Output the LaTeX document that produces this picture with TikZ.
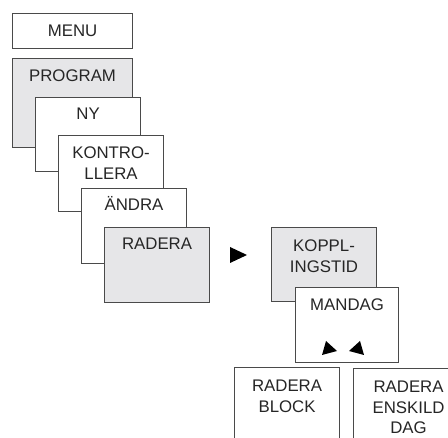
\documentclass[tikz,border=0pt]{standalone}
\usepackage{fontspec}
\setmainfont{Liberation Sans}
\begin{document}
\begin{tikzpicture}[x=1pt,y=-1pt]
\definecolor{linje}{HTML}{4A4A4A}
\definecolor{gra}{HTML}{E6E6E8}
\tikzset{ruta/.style={draw=linje, line width=1.1pt, fill=white, anchor=north west, inner sep=0pt, minimum width=105pt, minimum height=75pt},
  gruta/.style={ruta, fill=gra},
  text1/.style={anchor=base, inner sep=0pt, align=center, font=\fontsize{16.8}{20.5}\selectfont, text=black!85}}
\useasboundingbox (0,0) rectangle (448,438);
\clip (0,0) rectangle (448,438);
\node[ruta, minimum width=120pt, minimum height=35pt] (M) at (12,13) {};
\node[gruta, minimum width=120pt, minimum height=89pt] (P) at (12,58) {};
\node[ruta, minimum height=74pt] (P1) at (35,97) {};
\node[ruta, minimum height=76pt] (P2) at (58,135) {};
\node[ruta] (P3) at (81,188) {};
\node[gruta] (P4) at (104,227) {};
\node[gruta, minimum height=74pt] (K) at (271,227) {};
\node[ruta, minimum width=103pt] (K1) at (295,287) {};
\node[ruta, minimum height=100pt] (R1) at (234,367) {};
\node[ruta, minimum width=110pt, minimum height=100pt] (R2) at (353,368) {};
\node[text1] (tM) at ([yshift=-24pt]M.north) {MENU};
\node[text1] (tP) at ([yshift=-24pt]P.north) {PROGRAM};
\node[text1] (tP1) at ([yshift=-23pt]P1.north) {NY};
\node[text1] (tP2) at ([yshift=-44.5pt]P2.north) {KONTRO-\\LLERA};
\node[text1] (tP3) at ([yshift=-23pt]P3.north) {ÄNDRA};
\node[text1] (tP4) at ([yshift=-23pt]P4.north) {RADERA};
\node[text1] (tK) at ([yshift=-45.5pt]K.north) {KOPPL-\\INGSTID};
\node[text1] (tK1) at ([yshift=-24pt]K1.north) {MANDAG};
\node[text1] (tR1) at ([yshift=-45.5pt]R1.north) {RADERA\\BLOCK};
\node[text1] (tR2) at ([yshift=-66pt]R2.north) {RADERA\\ENSKILD\\DAG};
\fill[black] (230,247) -- (230,263) -- (247,255) -- cycle;
\fill[black] (326,341) -- (322,355) -- (337,351) -- cycle;
\fill[black] (360,341) -- (364,355) -- (349,351) -- cycle;
\end{tikzpicture}
\end{document}
